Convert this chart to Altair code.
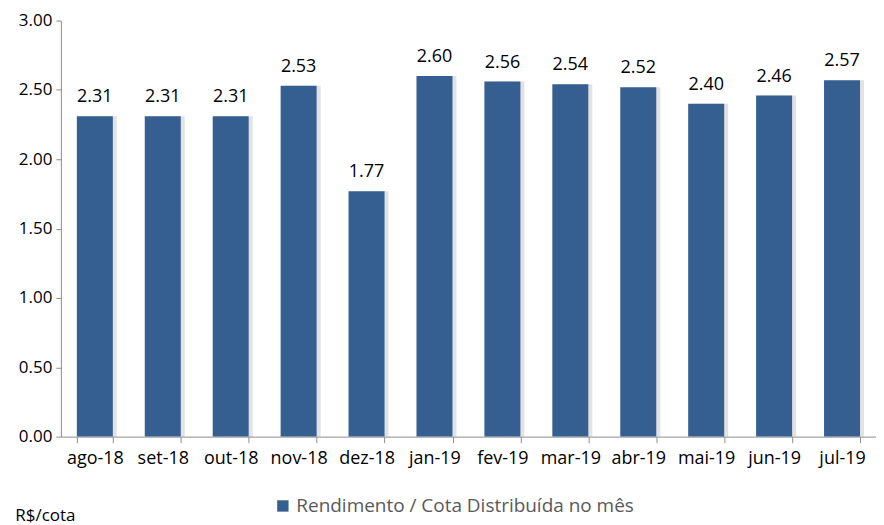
import altair as alt
import pandas as pd

months = ["ago-18", "set-18", "out-18", "nov-18", "dez-18", "jan-19",
          "fev-19", "mar-19", "abr-19", "mai-19", "jun-19", "jul-19"]
values = [2.31, 2.31, 2.31, 2.53, 1.77, 2.60, 2.56, 2.54, 2.52, 2.40, 2.46, 2.57]
series_name = "Rendimento / Cota Distribuída no mês"
y_ticks = [0, 0.5, 1.0, 1.5, 2.0, 2.5, 3.0]

df = pd.DataFrame({"mes": months, "valor": values, "serie": [series_name] * len(months)})

FONT = "Open Sans"
BLUE = "#365F91"
FS = 18

x_enc = alt.X("mes:N", sort=months, title=None,
              scale=alt.Scale(paddingInner=0.47, paddingOuter=0.235),
              axis=alt.Axis(labelAngle=0, tickBand="extent", tickSize=6,
                            labelPadding=7, labelFontSize=FS, labelColor="#000000",
                            labelFont=FONT, domainColor="#8c8c8c", tickColor="#8c8c8c"))
y_scale = alt.Scale(domain=[0, 3])

base = alt.Chart(df)

shadow = base.mark_bar(color="#8c8c8c", opacity=0.25, xOffset=4).encode(
    x=x_enc,
    y=alt.Y("valor:Q", scale=y_scale),
    y2=alt.datum(0),
)

bars = base.mark_bar().encode(
    x=x_enc,
    y=alt.Y("valor:Q", scale=y_scale, title=None,
            axis=alt.Axis(values=y_ticks, format=".2f", grid=False, tickSize=5,
                          labelPadding=4, labelFontSize=17, labelColor="#000000",
                          labelFont=FONT, domainColor="#8c8c8c", tickColor="#8c8c8c")),
    color=alt.Color("serie:N", scale=alt.Scale(range=[BLUE]), title=None,
                    legend=alt.Legend(orient="none", legendX=213, legendY=477,
                                      symbolType="square", symbolSize=130,
                                      symbolStrokeWidth=0, labelFontSize=19,
                                      labelFont=FONT, labelColor="#595959",
                                      labelLimit=600)),
)

labels = base.mark_text(baseline="bottom", dy=-10, fontSize=FS, font=FONT,
                        color="#000000").encode(
    x=alt.X("mes:N", sort=months),
    y=alt.Y("valor:Q", scale=y_scale),
    text=alt.Text("valor:Q", format=".2f"),
)

chart = alt.layer(shadow, bars, labels).properties(
    width=817, height=417,
    padding={"left": 53, "top": 12, "right": 0, "bottom": 100},
    autosize=alt.AutoSizeParams(type="none"),
    title=alt.Title("R$/cota", orient="bottom", anchor="start", fontSize=17,
                    font=FONT, fontWeight="normal", color="#000000", offset=-8,
                    dx=-3),
).configure_view(stroke=None)

chart.save("out.html", embed_options={"renderer": "svg", "actions": False})
